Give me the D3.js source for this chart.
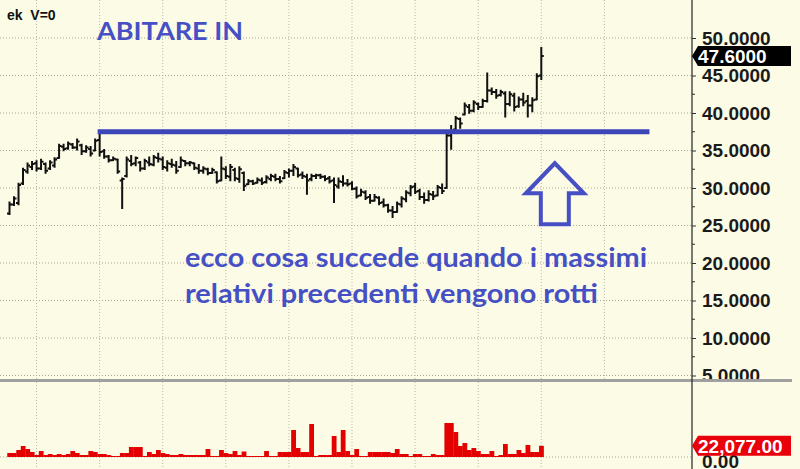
<!DOCTYPE html>
<html>
<head>
<meta charset="utf-8">
<script src="https://d3js.org/d3.v7.min.js"></script>
<style>
 body { margin: 0; background: #fcfce6; }
 svg { display: block; }
</style>
</head>
<body>
<div id="svgcontainer"></div>
<script>
var width = 800;
var height = 469;

// weekly bars
var highs = [28.2,28.9,30.7,32.7,33.4,33.6,33.7,33.9,33.4,33.7,
 34.1,35.9,35.9,36.2,36.0,36.6,35.9,35.7,35.6,36.6,
 37.5,35.2,34.4,34.2,33.9,31.4,34.2,34.4,34.2,33.6,
 33.9,34.2,34.4,34.7,34.2,33.7,33.9,33.6,34.2,33.7,
 33.6,33.4,33.2,32.9,32.7,32.7,32.2,34.2,32.9,33.2,
 32.7,32.9,32.2,31.2,31.1,31.4,31.4,31.7,31.9,31.9,
 31.6,32.4,32.6,33.2,32.7,32.2,31.9,31.9,31.9,31.9,
 31.7,31.6,31.4,31.4,31.7,31.2,30.9,30.2,29.9,29.7,
 29.2,29.2,28.9,28.6,27.9,27.6,28.2,28.9,29.7,30.4,
 30.7,29.9,29.4,29.7,29.6,30.4,30.6,37.7,38.4,39.6,
 39.4,41.4,41.2,41.7,41.4,41.9,45.4,43.4,43.2,43.1,
 42.9,42.9,42.7,42.2,42.7,42.4,42.1,45.3,48.8];
var lows = [26.4,27.6,27.7,30.4,31.9,32.4,32.2,32.4,31.9,32.4,
 32.7,33.9,34.9,35.1,35.2,35.0,34.4,34.7,34.2,34.9,
 34.2,33.9,33.4,33.6,31.9,27.2,31.4,32.9,32.9,32.2,
 32.4,32.9,32.9,33.4,32.4,32.2,32.7,31.9,32.7,32.9,
 32.9,32.4,31.9,31.9,31.7,31.9,30.6,30.9,31.2,30.9,
 30.9,30.7,29.6,30.4,30.4,30.6,30.4,30.6,30.9,30.9,
 30.6,31.2,31.4,31.6,31.4,31.2,29.1,30.9,31.2,31.2,
 30.9,30.6,28.0,29.9,30.2,30.2,29.7,28.6,28.9,28.4,
 27.9,28.2,27.7,27.4,26.7,26.0,26.7,27.4,28.1,28.9,
 29.2,28.4,27.9,28.2,28.4,28.9,29.2,29.9,35.1,37.7,
 37.9,39.7,39.9,40.1,40.4,40.7,41.4,42.4,41.9,42.2,
 39.4,40.9,40.2,40.7,40.9,39.4,40.1,41.7,44.4];
var opens = [26.6,27.8,28.0,30.6,32.2,32.8,33.3,32.6,33.2,32.6,
 33.0,34.0,35.5,35.3,35.8,35.4,35.7,34.9,35.2,35.0,
 36.4,34.9,34.2,33.7,33.8,31.0,31.6,33.6,33.3,33.4,
 32.6,33.4,33.1,34.0,33.8,32.7,33.2,33.0,32.8,33.6,
 33.3,33.3,32.6,32.3,32.5,32.0,32.1,31.0,32.5,31.5,
 32.4,31.2,32.0,30.5,30.9,30.7,31.0,30.8,31.2,31.5,
 31.2,31.3,32.0,32.3,32.6,31.8,31.5,31.2,31.6,31.7,
 31.5,31.3,31.0,30.2,30.8,30.6,30.6,29.9,29.0,29.4,
 28.8,28.3,28.7,28.1,27.7,27.0,26.8,27.8,28.5,29.3,
 30.2,29.6,28.8,28.4,29.1,29.0,30.0,30.0,37.0,37.8,
 39.2,39.8,40.8,40.3,41.2,40.8,41.6,43.0,42.8,42.4,
 42.6,41.2,42.3,40.9,41.8,41.6,41.0,41.8,45.0];
var closes = [27.8,28.6,30.4,32.4,33.0,33.2,32.6,33.5,32.3,33.4,
 33.8,35.6,35.2,35.9,35.4,36.2,34.9,35.4,34.6,36.3,
 34.8,34.2,33.7,33.9,32.2,31.2,33.8,33.2,34.0,32.6,
 33.6,33.2,34.1,33.9,32.8,33.3,33.1,32.3,33.7,33.3,
 33.4,32.7,32.3,32.6,32.0,32.4,30.9,32.6,31.6,32.8,
 31.3,32.5,30.3,30.9,30.6,31.1,30.7,31.4,31.6,31.2,
 30.9,32.1,32.3,32.8,31.7,31.6,31.0,31.6,31.7,31.5,
 31.2,30.9,30.4,30.9,30.6,30.5,29.9,28.9,29.5,28.7,
 28.3,28.8,28.0,27.7,27.0,26.8,27.9,28.6,29.4,30.1,
 29.5,28.8,28.4,29.2,28.9,30.1,29.6,37.0,37.6,39.3,
 38.6,41.0,40.3,41.4,40.8,41.6,43.0,42.8,42.3,42.8,
 41.2,42.5,40.8,41.8,41.4,41.0,41.7,44.9,47.6];
var volumes = [7900,7900,13800,21700,15800,9900,3900,11800,3900,5900,
 3900,5900,3900,5900,11800,7900,3900,3900,11800,9900,
 5900,5900,3900,2000,2000,7900,7900,19700,19700,19700,
 2000,9900,5900,13800,7900,5900,3900,3900,5900,3900,
 3900,3900,3900,3900,15800,2000,2000,13800,7900,5900,
 11800,3900,10900,2000,2000,2000,2000,11800,2000,2000,
 9900,9900,9900,53300,17800,9900,9900,65100,2000,3900,
 3900,3900,41500,9900,53300,11800,3900,15800,2000,2000,
 9900,9900,9900,9900,9900,7900,15800,5900,5900,2000,
 5900,5900,2000,2000,5900,3900,3900,67100,67100,49300,
 21700,27600,13800,17800,11800,5900,5900,11800,2000,3900,
 25700,5900,5900,13800,7900,23700,9900,9900,22077];

var priceTicks = [5,10,15,20,25,30,35,40,45,50];
var minorTicks = [7.5,12.5,17.5,22.5,27.5,32.5,37.5,42.5,47.5];
var priceGridIdx = [6,20,34,48,62,76,90,104,118,132];
var volGridIdx = [6,20,34,48,62,76,90,104,118];
var lastPrice = 47.6;
var lastVolume = 22077;

// resistance line and annotations
var resistance = 37.5;
var resStartIdx = 20;
var resEndIdx = 142;
var arrowIdx = 121;
var arrowTipPrice = 33.3;
var title = "ABITARE IN";
var header = "ek  V=0";
var note1 = "ecco cosa succede quando i massimi";
var note2 = "relativi precedenti vengono rotti";

var blue = "#4650c4";
var axisX = 692;

var svg = d3.select("#svgcontainer")
 .append("svg")
 .attr("width", width)
 .attr("height", height)
 .style("background-color", "#fcfce6");

var x = d3.scaleLinear().domain([0, 118]).range([9.5, 541.3]);
var y = d3.scaleLinear().domain([5, 50]).range([375.5, 38]);
var yv = d3.scaleLinear().domain([0, 150000]).range([457, 381]);
var step = x(1) - x(0);

svg.append("clipPath").attr("id", "pclip")
 .append("rect").attr("x", 0).attr("y", 0).attr("width", width).attr("height", 380);

var price = svg.append("g").attr("clip-path", "url(#pclip)");

// dotted grid, price panel
price.selectAll(".hg").data(priceTicks).enter().append("line")
 .attr("x1", 0).attr("x2", axisX)
 .attr("y1", d => y(d)).attr("y2", d => y(d))
 .style("stroke", "#a8a898").style("stroke-width", 1)
 .style("stroke-dasharray", "1,2");
price.selectAll(".vg").data(priceGridIdx).enter().append("line")
 .attr("x1", d => x(d)).attr("x2", d => x(d))
 .attr("y1", 0).attr("y2", 380)
 .style("stroke", "#b8b8a8").style("stroke-width", 1)
 .style("stroke-dasharray", "1,2");

// axis labels (clipped at the panel border like the original)
var axis = d3.axisRight(y).tickValues(priceTicks)
 .tickFormat(d3.format(".4f")).tickSize(4).tickPadding(6);
var ag = price.append("g").attr("transform", "translate(" + axisX + ",0)").call(axis);
ag.select(".domain").remove();
ag.selectAll("text").style("font-family", "Liberation Sans, Arial, sans-serif")
 .style("font-size", "19px").style("font-weight", "bold").style("fill", "#1a1a1a");
ag.selectAll("line").style("stroke", "#333");
price.selectAll(".mt").data(minorTicks).enter().append("line")
 .attr("x1", axisX).attr("x2", axisX + 3)
 .attr("y1", d => y(d)).attr("y2", d => y(d))
 .style("stroke", "#333");

// OHLC bars
var idx = d3.range(highs.length);
var bars = price.selectAll(".bar").data(idx).enter().append("g");
bars.append("line")
 .attr("x1", i => x(i)).attr("x2", i => x(i))
 .attr("y1", i => y(highs[i])).attr("y2", i => y(lows[i]))
 .style("stroke", "#111").style("stroke-width", 2);
bars.append("line")
 .attr("x1", i => x(i) - 2.5).attr("x2", i => x(i))
 .attr("y1", i => y(opens[i])).attr("y2", i => y(opens[i]))
 .style("stroke", "#111").style("stroke-width", 2);
bars.append("line")
 .attr("x1", i => x(i)).attr("x2", i => x(i) + 2.5)
 .attr("y1", i => y(closes[i])).attr("y2", i => y(closes[i]))
 .style("stroke", "#111").style("stroke-width", 2);

// resistance line
svg.append("line")
 .attr("x1", x(resStartIdx) - 2).attr("x2", x(resEndIdx))
 .attr("y1", y(resistance)).attr("y2", y(resistance))
 .style("stroke", "#3c46b8").style("stroke-width", 5);

// up arrow, outlined
var ax = x(arrowIdx), ay = y(arrowTipPrice);
var arrowPts = [[0,0],[29,30],[14,30],[14,61],[-14,61],[-14,30],[-29,30]];
svg.append("path")
 .attr("d", d3.line()(arrowPts.map(p => [ax + p[0], ay + p[1]])) + "Z")
 .style("fill", "none").style("stroke", blue).style("stroke-width", 4)
 .style("stroke-linejoin", "miter");

// texts
svg.append("text").attr("x", 7).attr("y", 20).text(header)
 .style("font-family", "Liberation Sans, Arial, sans-serif")
 .style("font-size", "14px").style("font-weight", "bold").style("fill", "#111")
 .style("white-space", "pre").attr("xml:space", "preserve");
svg.append("text").attr("x", 97).attr("y", 40).text(title)
 .attr("textLength", 146).attr("lengthAdjust", "spacingAndGlyphs")
 .style("font-family", "Lato, sans-serif").style("font-size", "25px")
 .style("font-weight", "bold").style("fill", blue);
svg.append("text").attr("x", 185).attr("y", 267).text(note1)
 .attr("textLength", 462).attr("lengthAdjust", "spacingAndGlyphs")
 .style("font-family", "Lato, sans-serif").style("font-size", "27px")
 .style("font-weight", "bold").style("fill", blue);
svg.append("text").attr("x", 185).attr("y", 303).text(note2)
 .attr("textLength", 413).attr("lengthAdjust", "spacingAndGlyphs")
 .style("font-family", "Lato, sans-serif").style("font-size", "27px")
 .style("font-weight", "bold").style("fill", blue);

// volume panel
svg.selectAll(".vvg").data(volGridIdx).enter().append("line")
 .attr("x1", d => x(d)).attr("x2", d => x(d))
 .attr("y1", 382).attr("y2", height)
 .style("stroke", "#b8b8a8").style("stroke-dasharray", "1,2");
svg.append("line").attr("x1", 0).attr("x2", axisX)
 .attr("y1", yv(0)).attr("y2", yv(0))
 .style("stroke", "#a8a898").style("stroke-dasharray", "1,2");
svg.selectAll(".vol").data(idx).enter().append("rect")
 .attr("x", i => x(i) - step / 2)
 .attr("width", step + 0.3)
 .attr("y", i => yv(volumes[i]))
 .attr("height", i => yv(0) - yv(volumes[i]))
 .style("fill", "#e30000");
svg.append("text").attr("x", 702).attr("y", yv(0) + 11).text("0.00")
 .style("font-family", "Liberation Sans, Arial, sans-serif")
 .style("font-size", "19px").style("font-weight", "bold").style("fill", "#1a1a1a");

// panel separator and axis line
svg.append("rect").attr("x", 0).attr("y", 379).attr("width", 792).attr("height", 3)
 .style("fill", "#a0a0a0");
svg.append("line").attr("x1", axisX).attr("x2", axisX).attr("y1", 0).attr("y2", height)
 .style("stroke", "#222").style("stroke-width", 1.2);

// last value flags
function flag(yPos, label, color) {
  var g = svg.append("g");
  g.append("path")
   .attr("d", "M" + axisX + "," + yPos + " L" + (axisX + 6) + "," + (yPos - 10) +
     " L791," + (yPos - 10) + " L791," + (yPos + 10) + " L" + (axisX + 6) + "," + (yPos + 10) + "Z")
   .style("fill", color);
  g.append("text").attr("x", 698).attr("y", yPos + 7).text(label)
   .style("font-family", "Liberation Sans, Arial, sans-serif")
   .style("font-size", "19px").style("font-weight", "bold").style("fill", "#fff");
}
flag(y(lastPrice), d3.format(".4f")(lastPrice), "#000");
flag(yv(lastVolume), d3.format(",.2f")(lastVolume), "#e8000b");
</script>
</body>
</html>
